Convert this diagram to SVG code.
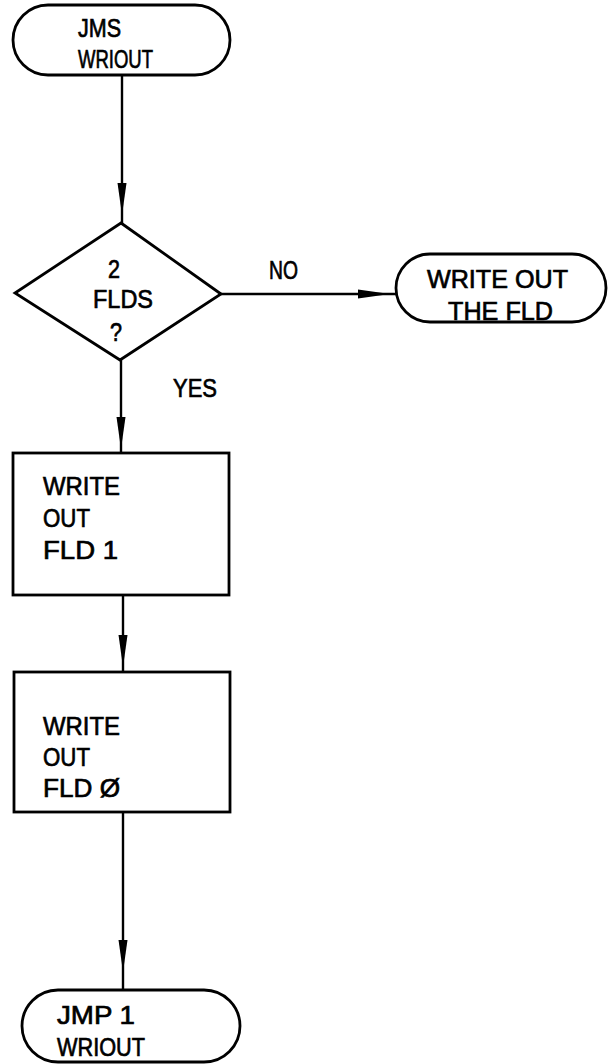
<svg xmlns="http://www.w3.org/2000/svg" width="608" height="1064" viewBox="0 0 608 1064">
<style>
.shape{fill:#fff;stroke:#000;stroke-width:2.8}
.conn{fill:none;stroke:#000;stroke-width:2.4}
text{font-family:"Liberation Sans",Arial,sans-serif;font-size:26px;fill:#000;stroke:#000;stroke-width:0.7}
</style>
<defs>
<marker id="ah" viewBox="-32 -5 33 10" refX="0" refY="0" markerWidth="33" markerHeight="10" markerUnits="userSpaceOnUse" orient="auto">
<path d="M0,0 L-32,-4.5 L-32,4.5 Z" fill="#000"/>
</marker>
</defs>
<g id="connectors">
<path class="conn" d="M122,75 V215 V223" marker-mid="url(#ah)"/>
<path class="conn" d="M221,294 H390 H396" marker-mid="url(#ah)"/>
<path class="conn" d="M121,360 V449 V453" marker-mid="url(#ah)"/>
<path class="conn" d="M123,595 V667 V672" marker-mid="url(#ah)"/>
<path class="conn" d="M123,812 V972 V990" marker-mid="url(#ah)"/>
</g>
<g id="start">
<rect class="shape" x="13" y="5" width="217" height="70" rx="35" ry="35"/>
<text x="78" y="37" textLength="43" lengthAdjust="spacingAndGlyphs">JMS</text>
<text x="78" y="68" textLength="75" lengthAdjust="spacingAndGlyphs">WRIOUT</text>
</g>
<g id="decision">
<polygon class="shape" points="121,223 221,294 120,360 15,293"/>
<text x="108" y="278" textLength="12" lengthAdjust="spacingAndGlyphs">2</text>
<text x="93" y="308" textLength="60" lengthAdjust="spacingAndGlyphs">FLDS</text>
<text x="110" y="341" textLength="12" lengthAdjust="spacingAndGlyphs">?</text>
</g>
<g id="labels">
<text x="269" y="279" textLength="29" lengthAdjust="spacingAndGlyphs">NO</text>
<text x="173" y="397" textLength="44" lengthAdjust="spacingAndGlyphs">YES</text>
</g>
<g id="writeone">
<rect class="shape" x="396" y="254" width="210" height="68" rx="34" ry="34"/>
<text x="427" y="288" textLength="141" lengthAdjust="spacingAndGlyphs">WRITE OUT</text>
<text x="448" y="320" textLength="105" lengthAdjust="spacingAndGlyphs">THE FLD</text>
</g>
<g id="fld1">
<rect class="shape" x="13" y="453" width="216" height="142"/>
<text x="43" y="495" textLength="77" lengthAdjust="spacingAndGlyphs">WRITE</text>
<text x="43" y="527" textLength="47" lengthAdjust="spacingAndGlyphs">OUT</text>
<text x="43" y="559" textLength="75" lengthAdjust="spacingAndGlyphs">FLD 1</text>
</g>
<g id="fld0">
<rect class="shape" x="14" y="672" width="216" height="140"/>
<text x="43" y="735" textLength="77" lengthAdjust="spacingAndGlyphs">WRITE</text>
<text x="43" y="766" textLength="47" lengthAdjust="spacingAndGlyphs">OUT</text>
<text x="43" y="797" textLength="77" lengthAdjust="spacingAndGlyphs">FLD Ø</text>
</g>
<g id="end">
<rect class="shape" x="22" y="990" width="218" height="72" rx="36" ry="36"/>
<text x="57" y="1024" textLength="78" lengthAdjust="spacingAndGlyphs">JMP 1</text>
<text x="57" y="1056" textLength="88" lengthAdjust="spacingAndGlyphs">WRIOUT</text>
</g>
</svg>
